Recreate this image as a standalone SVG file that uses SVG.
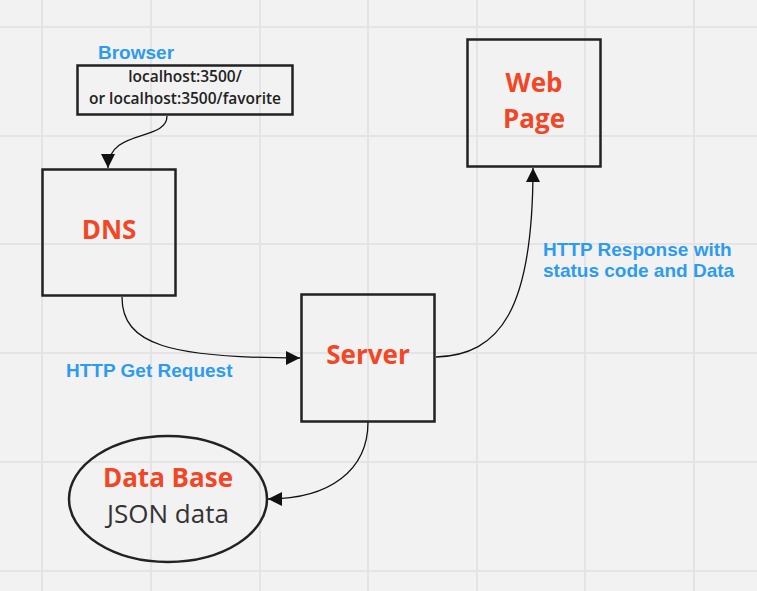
<svg xmlns="http://www.w3.org/2000/svg" width="757" height="591" viewBox="0 0 757 591">
<style>
.grid line{stroke:#e4e4e4;stroke-width:2}
.box{fill:none;stroke:#222;stroke-width:2.5}
.title{font-family:"Open Sans",sans-serif;font-weight:700;font-size:26px;fill:#f24726;text-anchor:middle}
.lbl{font-family:"Liberation Sans",Arial,sans-serif;font-weight:700;font-size:19px;fill:#2d9bf0}
.url{font-family:"Open Sans",sans-serif;font-weight:600;font-size:15.5px;fill:#222;text-anchor:middle}
.conn path{fill:none;stroke:#111;stroke-width:1.3}
</style>
<defs>
<marker id="arr" viewBox="0 0 10 10" refX="10" refY="5" markerWidth="14" markerHeight="14" markerUnits="userSpaceOnUse" orient="auto">
<path d="M0,0 L10,5 L0,10 z" fill="#111"/>
</marker>
</defs>
<rect width="757" height="591" fill="#f2f2f2"/>
<g class="grid">
<line x1="42" y1="0" x2="42" y2="591"/>
<line x1="151" y1="0" x2="151" y2="591"/>
<line x1="260" y1="0" x2="260" y2="591"/>
<line x1="368" y1="0" x2="368" y2="591"/>
<line x1="477" y1="0" x2="477" y2="591"/>
<line x1="585" y1="0" x2="585" y2="591"/>
<line x1="694" y1="0" x2="694" y2="591"/>
<line x1="0" y1="27" x2="757" y2="27"/>
<line x1="0" y1="136" x2="757" y2="136"/>
<line x1="0" y1="244" x2="757" y2="244"/>
<line x1="0" y1="353" x2="757" y2="353"/>
<line x1="0" y1="462" x2="757" y2="462"/>
<line x1="0" y1="571" x2="757" y2="571"/>
</g>
<g class="conn">
<path d="M167,116 C167,142 108,128 108,168" marker-end="url(#arr)"/>
<path d="M122,297 C122,345 170,358 300,358" marker-end="url(#arr)"/>
<path d="M436,357 C500,355 533,310 533,168" marker-end="url(#arr)"/>
<path d="M368,422 C368,470 330,499 268,499" marker-end="url(#arr)"/>
</g>
<g id="browser">
<text class="lbl" x="98" y="59">Browser</text>
<rect class="box" x="77.5" y="65.5" width="215" height="49"/>
<text class="url" x="185" y="82">localhost:3500/</text>
<text class="url" x="185" y="104">or localhost:3500/favorite</text>
</g>
<g id="dns">
<rect class="box" x="42.5" y="169.5" width="133" height="126"/>
<text class="title" x="109" y="239">DNS</text>
</g>
<g id="webpage">
<rect class="box" x="467.5" y="39.5" width="133" height="127"/>
<text class="title" x="534" y="92">Web</text>
<text class="title" x="534" y="128">Page</text>
</g>
<g id="server">
<rect class="box" x="301.5" y="294.5" width="133" height="127"/>
<text class="title" x="368" y="364">Server</text>
</g>
<g id="database">
<ellipse cx="168" cy="499" rx="99" ry="63" fill="none" stroke="#222" stroke-width="2.5"/>
<text class="title" x="168" y="487">Data Base</text>
<text x="168" y="523" font-family="Open Sans,sans-serif" font-size="26" fill="#333" text-anchor="middle">JSON data</text>
</g>
<g id="labels">
<text class="lbl" x="66" y="377">HTTP Get Request</text>
<text class="lbl" x="543" y="256">HTTP Response with</text>
<text class="lbl" x="543" y="277">status code and Data</text>
</g>
</svg>
